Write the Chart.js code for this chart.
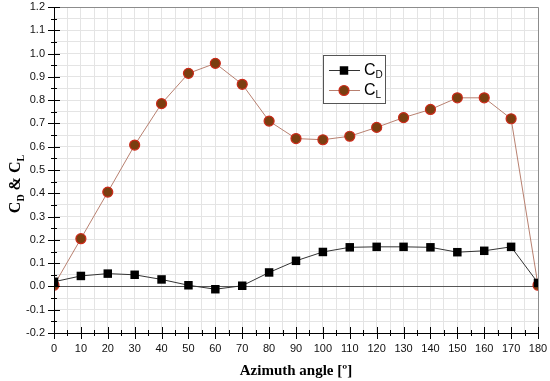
<!DOCTYPE html>
<html lang="en">
<head>
    <meta charset="UTF-8">
    <title>CD and CL vs azimuth angle</title>
    <style>
        body { margin: 0; background: #ffffff; }
        #wrap { width: 550px; height: 381px; position: relative; }
    </style>
</head>
<body>
    <div id="wrap"><canvas id="chart" width="550" height="381"></canvas></div>

    <script src="https://cdn.jsdelivr.net/npm/chart.js"></script>
    <script>
        // azimuth angles (deg)
        const angles = [0, 10, 20, 30, 40, 50, 60, 70, 80, 90, 100, 110, 120, 130, 140, 150, 160, 170, 180];
        // drag coefficient
        const cdValues = [0.02, 0.045, 0.055, 0.05, 0.03, 0.005, -0.012, 0.003, 0.06, 0.11, 0.148, 0.168, 0.17, 0.17, 0.168, 0.147, 0.153, 0.17, 0.015];
        // lift coefficient
        const clValues = [0.005, 0.205, 0.405, 0.607, 0.785, 0.915, 0.958, 0.868, 0.71, 0.635, 0.63, 0.645, 0.683, 0.725, 0.76, 0.81, 0.81, 0.72, 0.005];

        const xMin = 0, xMax = 180, yMin = -0.2, yMax = 1.2;

        const cdPoints = angles.map((a, i) => ({ x: a, y: cdValues[i] }));
        const clPoints = angles.map((a, i) => ({ x: a, y: clValues[i] }));

        const cdLine = '#333333';
        const clLine = '#b88070';
        const clFill = '#7a3e10';
        const clEdge = '#cc2a1a';

        // draw text "C" with a subscript
        function subText(ctx, x, y, main, sub, size, font) {
            ctx.font = font.replace('{s}', size + 'px');
            ctx.fillText(main, x, y);
            const w = ctx.measureText(main).width;
            ctx.font = font.replace('{s}', Math.round(size * 0.62) + 'px');
            ctx.fillText(sub, x + w, y + size * 0.28);
            return w + ctx.measureText(sub).width;
        }

        // axis ticks crossing the left and bottom axes, frame, y title and legend
        const extras = {
            id: 'extras',
            afterDraw(chart) {
                const ctx = chart.ctx;
                const a = chart.chartArea;
                const xs = chart.scales.x, ys = chart.scales.y;
                ctx.save();

                // frame top / right
                ctx.strokeStyle = '#8c8c8c';
                ctx.lineWidth = 1;
                ctx.beginPath();
                ctx.moveTo(a.left, a.top + 0.5);
                ctx.lineTo(a.right + 0.5, a.top + 0.5);
                ctx.lineTo(a.right + 0.5, a.bottom);
                ctx.stroke();

                // axes
                ctx.strokeStyle = '#000000';
                ctx.beginPath();
                ctx.moveTo(a.left + 0.5, a.top);
                ctx.lineTo(a.left + 0.5, a.bottom + 0.5);
                ctx.lineTo(a.right, a.bottom + 0.5);
                ctx.stroke();

                // ticks
                ctx.beginPath();
                for (let v = xMin; v <= xMax; v += 5) {
                    const px = Math.round(xs.getPixelForValue(v)) + 0.5;
                    const len = v % 10 === 0 ? 6 : 3;
                    ctx.moveTo(px, a.bottom - len);
                    ctx.lineTo(px, a.bottom + len);
                }
                for (let k = -4; k <= 24; k++) {
                    const v = k * 0.05;
                    const py = Math.round(ys.getPixelForValue(v)) + 0.5;
                    const len = k % 2 === 0 ? 6 : 3;
                    ctx.moveTo(a.left - len, py);
                    ctx.lineTo(a.left + len, py);
                }
                ctx.stroke();

                // y axis title
                ctx.fillStyle = '#000000';
                ctx.translate(20, (a.top + a.bottom) / 2 + 14);
                ctx.rotate(-Math.PI / 2);
                const font = 'bold {s} "Liberation Serif", "Times New Roman", serif';
                let total = 0;
                ctx.textBaseline = 'alphabetic';
                const parts = [['C', 'D'], [' & ', ''], ['C', 'L']];
                parts.forEach(p => {
                    ctx.font = font.replace('{s}', '16px');
                    total += ctx.measureText(p[0]).width;
                    ctx.font = font.replace('{s}', '10px');
                    total += ctx.measureText(p[1]).width;
                });
                let x = -total / 2;
                parts.forEach(p => { x += subText(ctx, x, 0, p[0], p[1], 16, font); });
                ctx.restore();

                // legend
                ctx.save();
                const lx = 323, ly = 55, lw = 62, lh = 48;
                ctx.fillStyle = '#ffffff';
                ctx.fillRect(lx, ly, lw, lh);
                ctx.strokeStyle = '#555555';
                ctx.lineWidth = 1;
                ctx.strokeRect(lx + 0.5, ly + 0.5, lw, lh);

                const rows = [
                    { y: ly + 15, line: cdLine, sub: 'D', ds: 0 },
                    { y: ly + 35, line: clLine, sub: 'L', ds: 1 }
                ];
                rows.forEach(r => {
                    ctx.strokeStyle = r.line;
                    ctx.lineWidth = 1;
                    ctx.beginPath();
                    ctx.moveTo(lx + 6, r.y + 0.5);
                    ctx.lineTo(lx + 37, r.y + 0.5);
                    ctx.stroke();
                    const dsOpt = chart.data.datasets[r.ds];
                    ctx.fillStyle = dsOpt.pointBackgroundColor;
                    ctx.strokeStyle = dsOpt.pointBorderColor;
                    ctx.lineWidth = dsOpt.pointBorderWidth || 1;
                    Chart.helpers.drawPoint(ctx, {
                        pointStyle: dsOpt.pointStyle,
                        radius: dsOpt.pointRadius,
                        borderWidth: dsOpt.pointBorderWidth
                    }, lx + 21, r.y + 0.5);
                    ctx.fillStyle = '#000000';
                    ctx.textBaseline = 'middle';
                    subText(ctx, lx + 41, r.y + 1, 'C', r.sub, 16, '{s} "Liberation Sans", Arial, sans-serif');
                });
                ctx.restore();
            }
        };

        new Chart(document.getElementById('chart'), {
            type: 'line',
            data: {
                datasets: [
                    {
                        label: 'CD',
                        data: cdPoints,
                        borderColor: cdLine,
                        borderWidth: 1,
                        pointStyle: 'rect',
                        pointRadius: 6,
                        pointBackgroundColor: '#000000',
                        pointBorderColor: '#000000',
                        pointBorderWidth: 0,
                        tension: 0
                    },
                    {
                        label: 'CL',
                        data: clPoints,
                        borderColor: clLine,
                        borderWidth: 1,
                        pointStyle: 'circle',
                        pointRadius: 5,
                        pointBackgroundColor: clFill,
                        pointBorderColor: clEdge,
                        pointBorderWidth: 1.2,
                        tension: 0
                    }
                ]
            },
            options: {
                responsive: false,
                animation: false,
                layout: { padding: { left: 0, right: 12, top: 7, bottom: 0 } },
                plugins: { legend: { display: false }, tooltip: { enabled: false } },
                scales: {
                    x: {
                        type: 'linear',
                        min: xMin,
                        max: xMax,
                        border: { display: false },
                        grid: { color: '#e4e4e4', drawTicks: false },
                        afterFit: s => { s.height = 48; s.paddingLeft = 0; s.paddingRight = 0; },
                        ticks: {
                            stepSize: 5,
                            autoSkip: false,
                            maxRotation: 0,
                            padding: 9,
                            color: '#111111',
                            font: { family: '"Liberation Sans", Arial, sans-serif', size: 11 },
                            callback: v => (v % 10 === 0 ? String(v) : '')
                        },
                        title: {
                            display: true,
                            text: 'Azimuth angle [º]',
                            color: '#000000',
                            font: { family: '"Liberation Serif", "Times New Roman", serif', size: 15, weight: 'bold' },
                            padding: { top: 4, bottom: 1 }
                        }
                    },
                    y: {
                        min: yMin,
                        max: yMax,
                        border: { display: false },
                        afterFit: s => { s.width = 54; s.paddingTop = 0; s.paddingBottom = 0; },
                        grid: {
                            drawTicks: false,
                            color: ctx => (Math.abs(ctx.tick.value) < 1e-9 ? '#555555' : '#e4e4e4')
                        },
                        ticks: {
                            stepSize: 0.05,
                            autoSkip: false,
                            padding: 9,
                            color: '#111111',
                            font: { family: '"Liberation Sans", Arial, sans-serif', size: 11 },
                            callback: v => {
                                const k = Math.round(v * 20);
                                return k % 2 === 0 ? (k / 20).toFixed(1) : '';
                            }
                        }
                    }
                }
            },
            plugins: [extras]
        });
    </script>
</body>
</html>
